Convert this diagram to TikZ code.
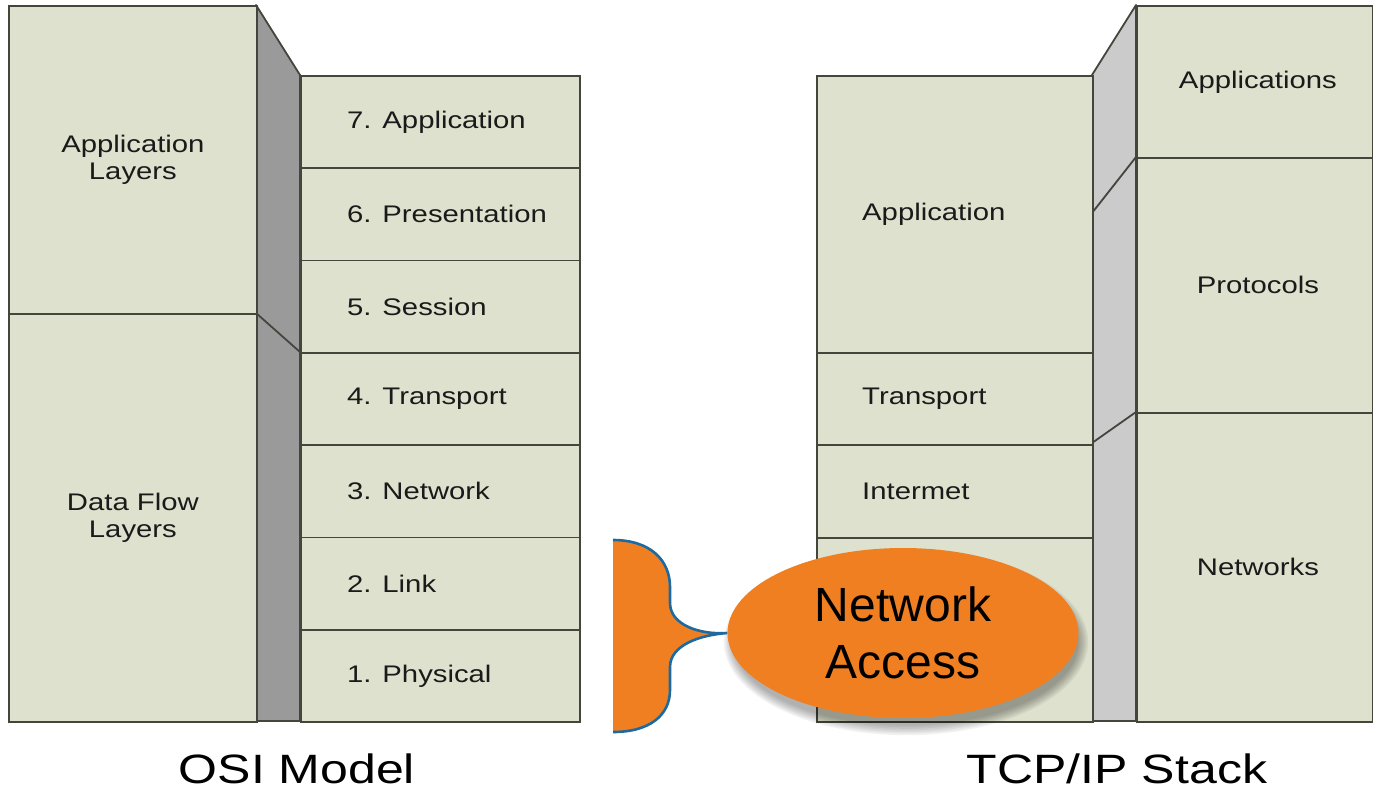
\documentclass[tikz,border=0pt]{standalone}
\usepackage{fontspec}
\setmainfont{Liberation Sans}
\usetikzlibrary{shapes.geometric}
\definecolor{cellfill}{HTML}{DEE1CD}
\definecolor{celldraw}{HTML}{45453E}
\definecolor{darkstrip}{HTML}{9A9A9A}
\definecolor{lightstrip}{HTML}{CBCBCB}
\definecolor{orng}{HTML}{F07F22}
\definecolor{bluel}{HTML}{1C6AA0}
\definecolor{txt}{HTML}{1A1A1A}
\newcommand{\tx}[1]{\scalebox{1.22}[1]{#1}}
\begin{document}
\begin{tikzpicture}[x=1pt,y=-1pt,
  cell/.style={draw=celldraw, fill=cellfill, line width=1.8pt, anchor=north west, inner sep=0pt, minimum width=#1},
  cell/.default=279pt,
  lbl/.style={text=txt, font=\fontsize{24}{27}\selectfont, inner sep=0pt, align=center},
  captxt/.style={text=black, font=\fontsize{41}{48}\selectfont, inner sep=0pt},
  strip/.style={draw=celldraw, line width=1.8pt, line join=round},
  sep/.style={draw=celldraw, line width=1.8pt}]
\useasboundingbox (0,0) rectangle (1373,790);
% ---------------- OSI model ----------------
\path[strip, fill=darkstrip] (256,5) -- (300,75) -- (300,721) -- (256,721) -- cycle;
\draw[sep] (256,313) -- (300,352);
\node[cell=248pt, minimum height=308pt] (appl) at (8,5) {};
\node[cell=248pt, minimum height=408pt] (dfl) at (8,313) {};
\node[lbl] at (appl.center) {\tx{Application}\\\tx{Layers}};
\node[lbl] at (dfl.center) {\tx{Data Flow}\\\tx{Layers}};
\node[cell, minimum height=92.3pt] (o7) at (300,75) {};
\node[cell, minimum height=92.3pt] (o6) at (300,167.3) {};
\node[cell, minimum height=92.3pt] (o5) at (300,259.6) {};
\node[cell, minimum height=92.3pt] (o4) at (300,351.9) {};
\node[cell, minimum height=92.3pt] (o3) at (300,444.2) {};
\node[cell, minimum height=92.3pt] (o2) at (300,536.5) {};
\node[cell, minimum height=92.3pt] (o1) at (300,628.8) {};
\node[lbl, anchor=west] at ([xshift=47pt]o7.west) {\tx{7. Application}};
\node[lbl, anchor=west] at ([xshift=47pt]o6.west) {\tx{6. Presentation}};
\node[lbl, anchor=west] at ([xshift=47pt]o5.west) {\tx{5. Session}};
\node[lbl, anchor=west] at ([xshift=47pt]o4.west) {\tx{4. Transport}};
\node[lbl, anchor=west] at ([xshift=47pt]o3.west) {\tx{3. Network}};
\node[lbl, anchor=west] at ([xshift=47pt]o2.west) {\tx{2. Link}};
\node[lbl, anchor=west] at ([xshift=47pt]o1.west) {\tx{1. Physical}};
\node[captxt] (osi) at (297,769) {\tx{OSI Model}};
% ---------------- TCP/IP stack ----------------
\path[strip, fill=lightstrip] (1092,75) -- (1136,5) -- (1136,721) -- (1092,721) -- cycle;
\draw[sep] (1092,213) -- (1136,157);
\draw[sep] (1092,443) -- (1136,412);
\node[cell=276pt, minimum height=277pt] (tapp) at (816,75) {};
\node[cell=276pt, minimum height=92pt] (ttr) at (816,352) {};
\node[cell=276pt, minimum height=93pt] (tin) at (816,444) {};
\node[cell=276pt, minimum height=184pt] (tna) at (816,537) {};
\node[lbl, anchor=west] at ([xshift=46pt]tapp.west) {\tx{Application}};
\node[lbl, anchor=west] at ([xshift=46pt]ttr.west) {\tx{Transport}};
\node[lbl, anchor=west] at ([xshift=46pt]tin.west) {\tx{Intermet}};
\node[cell=236pt, minimum height=152pt] (rapps) at (1136,5) {};
\node[cell=236pt, minimum height=255pt] (rprot) at (1136,157) {};
\node[cell=236pt, minimum height=309pt] (rnet) at (1136,412) {};
\node[lbl] at ([xshift=3pt]rapps.center) {\tx{Applications}};
\node[lbl] at ([xshift=3pt]rprot.center) {\tx{Protocols}};
\node[lbl] at ([xshift=3pt]rnet.center) {\tx{Networks}};
\node[captxt] (tcp) at (1117,769) {\tx{TCP/IP Stack}};
% ---------------- brace + callout ----------------
\foreach \i in {1,...,7} {
  \fill[black, opacity=0.05] (906,642) ellipse ({171+1.6*\i} and {82+1.6*\i});
}
\node[ellipse, fill=orng, minimum width=351pt, minimum height=170pt, inner sep=0pt,
      font=\fontsize{48}{57}\selectfont, align=center] (na) at (903,633) {Network\\Access};
\fill[orng] (613,540) .. controls (650,540) and (670,560) .. (670,587) -- (670,603)
  .. controls (670,625) and (700,635) .. (na.west)
  .. controls (700,635) and (670,645) .. (670,667) -- (670,690)
  .. controls (670,715) and (650,732) .. (613,732) -- cycle;
\draw[bluel, line width=2.6pt] (613,540) .. controls (650,540) and (670,560) .. (670,587) -- (670,603)
  .. controls (670,625) and (700,635) .. (na.west)
  .. controls (700,635) and (670,645) .. (670,667) -- (670,690)
  .. controls (670,715) and (650,732) .. (613,732);
\end{tikzpicture}
\end{document}
